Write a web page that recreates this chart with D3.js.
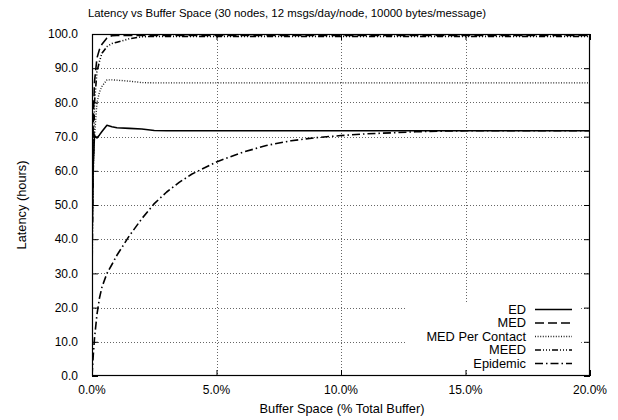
<!DOCTYPE html>
<html>
<head>
<meta charset="utf-8">
<script src="https://cdn.jsdelivr.net/npm/d3@7"></script>
<style>
  html, body { margin: 0; padding: 0; background: #fff; }
  svg { display: block; font-family: "Liberation Sans", Arial, sans-serif; }
</style>
</head>
<body>
<svg id="chart" width="618" height="420"></svg>
<script>
// ---- data ----
const bufferPct = [0, 0.05, 0.1, 0.2, 0.3, 0.4, 0.6, 0.8, 1.0, 1.5, 2, 2.5, 3, 3.5, 4, 5, 6, 7, 8, 9, 10, 11, 12, 13, 14, 15, 16, 17, 18, 19, 20];
const edLatency =       [38, 62, 70.3, 69.6, 70.5, 71.5, 73.3, 72.9, 72.6, 72.4, 72.2, 71.8, 71.7, 71.7, 71.7, 71.7, 71.7, 71.7, 71.7, 71.7, 71.7, 71.7, 71.7, 71.7, 71.7, 71.7, 71.7, 71.7, 71.7, 71.7, 71.7];
const medLatency =      [40, 75, 86, 93, 95.5, 97, 98.8, 99.5, 99.6, 99.6, 99.6, 99.6, 99.6, 99.6, 99.6, 99.6, 99.6, 99.6, 99.6, 99.6, 99.6, 99.6, 99.6, 99.6, 99.6, 99.6, 99.6, 99.6, 99.6, 99.6, 99.6];
const medPerContactLatency = [40, 60, 70, 80, 83, 84.7, 86.6, 86.6, 86.5, 86.2, 85.8, 85.7, 85.7, 85.7, 85.7, 85.7, 85.7, 85.7, 85.7, 85.7, 85.7, 85.7, 85.7, 85.7, 85.7, 85.7, 85.7, 85.7, 85.7, 85.7, 85.7];
const meedLatency =     [30, 60, 80, 89, 92, 94.4, 96.3, 97.2, 97.6, 98.6, 99.2, 99.3, 99.3, 99.3, 99.3, 99.3, 99.3, 99.3, 99.3, 99.3, 99.3, 99.3, 99.3, 99.3, 99.3, 99.3, 99.3, 99.3, 99.3, 99.3, 99.3];
const epidemicLatency = [0, 6, 11, 18, 22.8, 26, 30, 32.6, 35.3, 41, 46, 50.4, 53.8, 56.6, 59, 62.6, 65.3, 67.4, 68.8, 69.7, 70.3, 70.8, 71.1, 71.4, 71.6, 71.7, 71.7, 71.7, 71.7, 71.7, 71.7];

const seriesNames = ["ED", "MED", "MED Per Contact", "MEED", "Epidemic"];
const seriesValues = [edLatency, medLatency, medPerContactLatency, meedLatency, epidemicLatency];

const xTicks = [0, 5, 10, 15, 20];
const yTicks = [0, 10, 20, 30, 40, 50, 60, 70, 80, 90, 100];

const titleText = "Latency vs Buffer Space (30 nodes, 12 msgs/day/node, 10000 bytes/message)";
const xLabel = "Buffer Space (% Total Buffer)";
const yLabel = "Latency (hours)";

// ---- styles ----
const styles = [
  { dash: null, width: 1.6, color: "#000" },
  { dash: "9,4", width: 1.6, color: "#000" },
  { dash: "1,1.6", width: 1.4, color: "#222" },
  { dash: "6,2,1,2,1,2,1,2", width: 1.6, color: "#000" },
  { dash: "8,3,1.5,3", width: 1.6, color: "#000" }
];

const svg = d3.select("#chart");
const L = 92, R = 590, T = 34, B = 376;
const x = d3.scaleLinear().domain([0, 20]).range([L, R]);
const y = d3.scaleLinear().domain([0, 100]).range([B, T]);

const legBox = { x0: 405, x1: 580, y0: 302, y1: 369 };

// grid
const gridG = svg.append("g").attr("stroke", "#666").attr("stroke-width", 1).attr("stroke-dasharray", "1,2");
yTicks.filter(v => v > 0 && v < 100).forEach(v => {
  gridG.append("line").attr("x1", L).attr("x2", R).attr("y1", Math.round(y(v)) + 0.5).attr("y2", Math.round(y(v)) + 0.5);
});
xTicks.filter(v => v > 0 && v < 20).forEach(v => {
  gridG.append("line").attr("x1", Math.round(x(v)) + 0.5).attr("x2", Math.round(x(v)) + 0.5).attr("y1", T).attr("y2", B);
});

// curves
svg.append("clipPath").attr("id", "plotclip").append("rect")
  .attr("x", L).attr("y", T - 2).attr("width", R - L).attr("height", B - T + 2);
const line = d3.line().x((d, i) => x(bufferPct[i])).y(d => y(d));
const curvesG = svg.append("g").attr("clip-path", "url(#plotclip)");
[4, 2, 3, 1, 0].forEach(k => {
  curvesG.append("path")
    .datum(seriesValues[k])
    .attr("d", line)
    .attr("fill", "none")
    .attr("stroke", styles[k].color)
    .attr("stroke-width", styles[k].width)
    .attr("stroke-dasharray", styles[k].dash)
    .attr("stroke-linejoin", "round");
});

// legend background
svg.append("rect").attr("x", legBox.x0).attr("y", legBox.y0)
  .attr("width", legBox.x1 - legBox.x0).attr("height", legBox.y1 - legBox.y0).attr("fill", "#fff");

// frame
svg.append("rect").attr("x", L + 0.5).attr("y", T + 0.5).attr("width", R - L - 1).attr("height", B - T - 1)
  .attr("fill", "none").attr("stroke", "#000").attr("stroke-width", 1.2);

// inward ticks on all four sides
const tickLen = 6;
const axL = d3.axisRight(y).tickValues(yTicks).tickSize(tickLen).tickFormat("");
const axR = d3.axisLeft(y).tickValues(yTicks).tickSize(tickLen).tickFormat("");
const axB = d3.axisTop(x).tickValues(xTicks).tickSize(tickLen).tickFormat("");
const axT = d3.axisBottom(x).tickValues(xTicks).tickSize(tickLen).tickFormat("");
[[axL, `translate(${L},0)`], [axR, `translate(${R},0)`], [axB, `translate(0,${B})`], [axT, `translate(0,${T})`]].forEach(([ax, tr]) => {
  const g = svg.append("g").attr("transform", tr).call(ax);
  g.select(".domain").remove();
  g.selectAll("line").attr("stroke", "#000");
});

// tick labels
const yLab = svg.append("g").attr("font-size", 12).attr("fill", "#000");
yTicks.forEach(v => {
  yLab.append("text").attr("x", 78).attr("y", y(v)).attr("dy", "0.35em")
    .attr("text-anchor", "end").text(d3.format(".1f")(v));
});
const xLab = svg.append("g").attr("font-size", 12).attr("fill", "#000");
xTicks.forEach(v => {
  xLab.append("text").attr("x", x(v)).attr("y", 390).attr("dy", "0.35em")
    .attr("text-anchor", "middle").text(d3.format(".1f")(v) + "%");
});

// titles
svg.append("text").attr("x", 287).attr("y", 13).attr("dy", "0.35em").attr("text-anchor", "middle")
  .attr("font-size", 11.4).text(titleText);
svg.append("text").attr("x", 342).attr("y", 409).attr("dy", "0.35em").attr("text-anchor", "middle")
  .attr("font-size", 12.8).text(xLabel);
svg.append("text").attr("transform", "translate(22,205) rotate(-90)").attr("dy", "0.35em")
  .attr("text-anchor", "middle").attr("font-size", 12.8).text(yLabel);

// legend
const legRowY = [309.5, 323, 336.5, 350, 363.5];
seriesNames.forEach((name, k) => {
  svg.append("text").attr("x", 526).attr("y", legRowY[k]).attr("dy", "0.35em")
    .attr("text-anchor", "end").attr("font-size", 12.8).text(name);
  svg.append("line").attr("x1", 535).attr("x2", 572).attr("y1", legRowY[k]).attr("y2", legRowY[k])
    .attr("stroke", styles[k].color).attr("stroke-width", styles[k].width)
    .attr("stroke-dasharray", styles[k].dash);
});
</script>
</body>
</html>
